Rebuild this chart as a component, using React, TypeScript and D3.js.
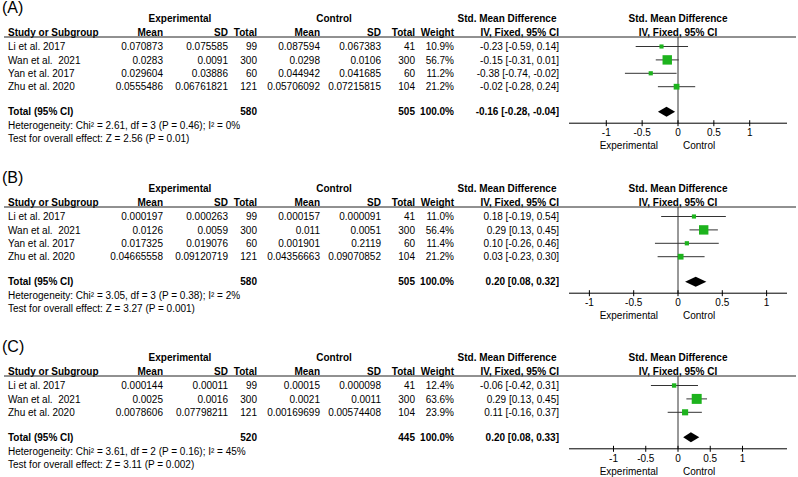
import React from 'react';
import * as d3 from 'd3';

// ---- panel A ----
const studiesA = ['Li et al. 2017', 'Wan et al.  2021', 'Yan et al. 2017', 'Zhu et al. 2020'];
const expMeanA = ['0.070873', '0.0283', '0.029604', '0.0555486'];
const expSdA = ['0.075585', '0.0091', '0.03886', '0.06761821'];
const expNA = [99, 300, 60, 121];
const ctlMeanA = ['0.087594', '0.0298', '0.044942', '0.05706092'];
const ctlSdA = ['0.067383', '0.0106', '0.041685', '0.07215815'];
const ctlNA = [41, 300, 60, 104];
const weightA = [10.9, 56.7, 11.2, 21.2];
const smdA = [-0.23, -0.15, -0.38, -0.02];
const lowA = [-0.59, -0.31, -0.74, -0.28];
const highA = [0.14, 0.01, -0.02, 0.24];
const pooledA = [-0.16, -0.28, -0.04];
const totalsA = [580, 505];
const hetA = 'Heterogeneity: Chi\u00B2 = 2.61, df = 3 (P = 0.46); I\u00B2 = 0%';
const testA = 'Test for overall effect: Z = 2.56 (P = 0.01)';

// ---- panel B ----
const studiesB = ['Li et al. 2017', 'Wan et al.  2021', 'Yan et al. 2017', 'Zhu et al. 2020'];
const expMeanB = ['0.000197', '0.0126', '0.017325', '0.04665558'];
const expSdB = ['0.000263', '0.0059', '0.019076', '0.09120719'];
const expNB = [99, 300, 60, 121];
const ctlMeanB = ['0.000157', '0.011', '0.001901', '0.04356663'];
const ctlSdB = ['0.000091', '0.0051', '0.2119', '0.09070852'];
const ctlNB = [41, 300, 60, 104];
const weightB = [11.0, 56.4, 11.4, 21.2];
const smdB = [0.18, 0.29, 0.1, 0.03];
const lowB = [-0.19, 0.13, -0.26, -0.23];
const highB = [0.54, 0.45, 0.46, 0.3];
const pooledB = [0.2, 0.08, 0.32];
const totalsB = [580, 505];
const hetB = 'Heterogeneity: Chi\u00B2 = 3.05, df = 3 (P = 0.38); I\u00B2 = 2%';
const testB = 'Test for overall effect: Z = 3.27 (P = 0.001)';

// ---- panel C ----
const studiesC = ['Li et al. 2017', 'Wan et al.  2021', 'Zhu et al. 2020'];
const expMeanC = ['0.000144', '0.0025', '0.0078606'];
const expSdC = ['0.00011', '0.0016', '0.07798211'];
const expNC = [99, 300, 121];
const ctlMeanC = ['0.00015', '0.0021', '0.00169699'];
const ctlSdC = ['0.000098', '0.0011', '0.00574408'];
const ctlNC = [41, 300, 104];
const weightC = [12.4, 63.6, 23.9];
const smdC = [-0.06, 0.29, 0.11];
const lowC = [-0.42, 0.13, -0.16];
const highC = [0.31, 0.45, 0.37];
const pooledC = [0.2, 0.08, 0.33];
const totalsC = [520, 445];
const hetC = 'Heterogeneity: Chi\u00B2 = 3.61, df = 2 (P = 0.16); I\u00B2 = 45%';
const testC = 'Test for overall effect: Z = 3.11 (P = 0.002)';

const tickValues = [-1, -0.5, 0, 0.5, 1];

const panels = [
  { label: '(A)', top: 37, limit: 1.52, studies: studiesA, expMean: expMeanA, expSd: expSdA, expN: expNA, ctlMean: ctlMeanA, ctlSd: ctlSdA, ctlN: ctlNA, weight: weightA, smd: smdA, low: lowA, high: highA, pooled: pooledA, totals: totalsA, het: hetA, test: testA },
  { label: '(B)', top: 207, limit: 1.23, studies: studiesB, expMean: expMeanB, expSd: expSdB, expN: expNB, ctlMean: ctlMeanB, ctlSd: ctlSdB, ctlN: ctlNB, weight: weightB, smd: smdB, low: lowB, high: highB, pooled: pooledB, totals: totalsB, het: hetB, test: testB },
  { label: '(C)', top: 376, limit: 1.69, studies: studiesC, expMean: expMeanC, expSd: expSdC, expN: expNC, ctlMean: ctlMeanC, ctlSd: ctlSdC, ctlN: ctlNC, weight: weightC, smd: smdC, low: lowC, high: highC, pooled: pooledC, totals: totalsC, het: hetC, test: testC },
];

const col = { study: 8, expMean: 163, expSd: 228, expN: 257, ctlMean: 320, ctlSd: 381, ctlN: 415, weight: 454, ci: 559 };
const FONT = '"Liberation Sans", Arial, sans-serif';
const TXT = '#000';
const GREEN = '#1db31d';

const f2 = (v: number) => v.toFixed(2);
const ciText = (m: number, l: number, h: number) => `${f2(m)} [${f2(l)}, ${f2(h)}]`;

const Panel = ({ p }: { p: typeof panels[0] }) => {
  const x = d3.scaleLinear().domain([-1, 1]).range([678 - 109 / p.limit, 678 + 109 / p.limit]);
  const rowY = (i: number) => p.top + 9.5 + i * 13.4;
  const totalY = rowY(p.studies.length - 1) + 25;
  const axisY = totalY + 11.5;
  const size = (w: number) => 1.25 * Math.sqrt(w);
  const base = 3.6;
  const diamondPath = d3.line()([
    [x(p.pooled[1]), totalY],
    [x(p.pooled[0]), totalY - 5],
    [x(p.pooled[2]), totalY],
    [x(p.pooled[0]), totalY + 5],
  ]) + 'Z';
  const r = (xx: number, y: number, s: string | number, bold = false) => (
    <text x={xx} y={y + base} textAnchor="end" fontWeight={bold ? 'bold' : 'normal'}>{s}</text>
  );
  return (
    <g fontFamily={FONT} fontSize={10} fill={TXT}>
      <text x={2} y={p.top - 24} fontSize={16}>{p.label}</text>
      <g fontWeight="bold">
        <text x={180} y={p.top - 19 + base} textAnchor="middle">Experimental</text>
        <text x={334} y={p.top - 19 + base} textAnchor="middle">Control</text>
        <text x={507} y={p.top - 19 + base} textAnchor="middle">Std. Mean Difference</text>
        <text x={678} y={p.top - 19 + base} textAnchor="middle">Std. Mean Difference</text>
        <text x={col.study} y={p.top - 1.5}>Study or Subgroup</text>
        <text x={col.expMean} y={p.top - 1.5} textAnchor="end">Mean</text>
        <text x={col.expSd} y={p.top - 1.5} textAnchor="end">SD</text>
        <text x={col.expN} y={p.top - 1.5} textAnchor="end">Total</text>
        <text x={col.ctlMean} y={p.top - 1.5} textAnchor="end">Mean</text>
        <text x={col.ctlSd} y={p.top - 1.5} textAnchor="end">SD</text>
        <text x={col.ctlN} y={p.top - 1.5} textAnchor="end">Total</text>
        <text x={col.weight} y={p.top - 1.5} textAnchor="end">Weight</text>
        <text x={col.ci} y={p.top - 1.5} textAnchor="end">IV, Fixed, 95% CI</text>
        <text x={678} y={p.top - 1.5} textAnchor="middle">IV, Fixed, 95% CI</text>
      </g>
      <line x1={4} x2={796} y1={p.top} y2={p.top} stroke="#222" strokeWidth={1} />
      {p.studies.map((s, i) => (
        <g key={s}>
          <text x={col.study} y={rowY(i) + base} style={{ whiteSpace: 'pre' }}>{s}</text>
          {r(col.expMean, rowY(i), p.expMean[i])}
          {r(col.expSd, rowY(i), p.expSd[i])}
          {r(col.expN, rowY(i), p.expN[i])}
          {r(col.ctlMean, rowY(i), p.ctlMean[i])}
          {r(col.ctlSd, rowY(i), p.ctlSd[i])}
          {r(col.ctlN, rowY(i), p.ctlN[i])}
          {r(col.weight, rowY(i), p.weight[i].toFixed(1) + '%')}
          {r(col.ci, rowY(i), ciText(p.smd[i], p.low[i], p.high[i]))}
        </g>
      ))}
      <text x={col.study} y={totalY + base} fontWeight="bold">Total (95% CI)</text>
      {r(col.expN, totalY, p.totals[0], true)}
      {r(col.ctlN, totalY, p.totals[1], true)}
      {r(col.weight, totalY, '100.0%', true)}
      {r(col.ci, totalY, ciText(p.pooled[0], p.pooled[1], p.pooled[2]), true)}
      <text x={col.study} y={totalY + 14 + base}>{p.het}</text>
      <text x={col.study} y={totalY + 27 + base}>{p.test}</text>

      {/* forest plot */}
      <line x1={x(0)} x2={x(0)} y1={p.top} y2={axisY} stroke="#333" />
      {p.studies.map((s, i) => {
        const sz = size(p.weight[i]);
        return (
          <g key={'f' + s}>
            <line x1={x(p.low[i])} x2={x(p.high[i])} y1={rowY(i)} y2={rowY(i)} stroke="#333" />
            <rect x={x(p.smd[i]) - sz / 2} y={rowY(i) - sz / 2} width={sz} height={sz} fill={GREEN} />
          </g>
        );
      })}
      <path d={diamondPath} fill="#000" />
      <line x1={x(-p.limit)} x2={x(p.limit)} y1={axisY} y2={axisY} stroke="#000" />
      {tickValues.map((t) => (
        <g key={t}>
          <line x1={x(t)} x2={x(t)} y1={axisY - 3} y2={axisY + 3} stroke="#000" />
          <text x={x(t)} y={axisY + 13} textAnchor="middle">{String(t)}</text>
        </g>
      ))}
      <text x={x(0) - 20} y={axisY + 26} textAnchor="end">Experimental</text>
      <text x={x(0) + 5} y={axisY + 26}>Control</text>
    </g>
  );
};

export default function App() {
  return (
    <svg width={798} height={477} style={{ position: 'absolute', left: 0, top: 0, background: '#fff' }}>
      <rect width={798} height={477} fill="#fff" />
      {panels.map((p) => <Panel key={p.label} p={p} />)}
    </svg>
  );
}
